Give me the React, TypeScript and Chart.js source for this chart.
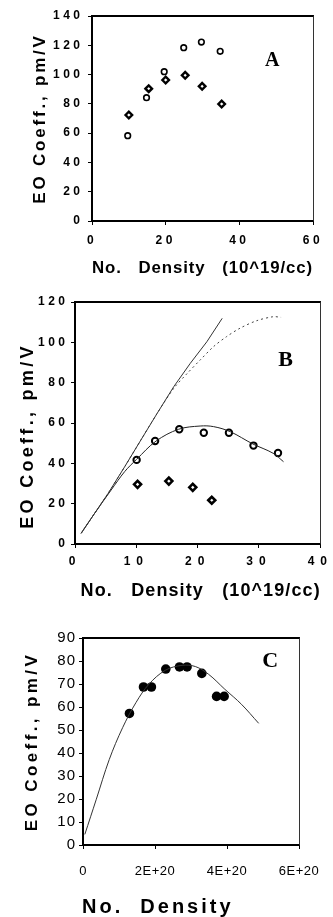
import React, { useEffect, useRef, useState } from 'react';
import { Chart, registerables } from 'chart.js';

Chart.register(...registerables);

// ---------- Panel A ----------
const aCircleX = [9.7, 14.8, 19.6, 24.9, 29.7, 34.8];
const aCircleY = [58.3, 84.2, 102, 118.4, 122.2, 115.9];
const aDiamondX = [10.0, 15.4, 20.0, 25.3, 29.9, 35.2];
const aDiamondY = [72.4, 90.4, 96.3, 99.5, 92.0, 79.9];
const aXTicks = [0, 20, 40, 60];
const aYTicks = [0, 20, 40, 60, 80, 100, 120, 140];

// ---------- Panel B ----------
const bCircleX = [10.05, 13.06, 17.0, 21.0, 25.1, 29.1, 33.1];
const bCircleY = [41.7, 51.1, 56.9, 55.2, 55.2, 48.8, 45.1];
const bDiamondX = [10.2, 15.3, 19.2, 22.3];
const bDiamondY = [29.6, 31.2, 28.1, 21.7];
const bLinearX = [1, 3.2, 5.4, 8.1, 10.75, 13.4, 16.1, 18.8, 21.5, 24];
const bLinearY = [5.3, 15.2, 25.1, 38.3, 51.6, 64.8, 78, 89.6, 100.3, 111.9];
const bDashX = [1, 3.2, 5.4, 8.1, 10.75, 13.4, 16.1, 18.3, 20.4, 22.6, 24.7, 26.9, 29.6, 32.3, 33.6];
const bDashY = [5.3, 15.2, 25.1, 38.3, 51.6, 64.8, 77.2, 84.6, 91.2, 97.9, 102.8, 107, 110.7, 112.7, 112.4];
const bFitX = [1, 3.2, 5.9, 8.1, 10.05, 13.2, 16.9, 20.4, 22.6, 25.3, 29, 32.3, 34];
const bFitY = [5.3, 15.2, 26.8, 35.9, 42, 51, 56.9, 58.5, 58.2, 55.7, 49.6, 45, 40.8];
const bXTicks = [0, 10, 20, 30, 40];
const bYTicks = [0, 20, 40, 60, 80, 100, 120];

// ---------- Panel C ----------
const cPointX = [1.29e20, 1.68e20, 1.9e20, 2.3e20, 2.68e20, 2.89e20, 3.3e20, 3.71e20, 3.92e20];
const cPointY = [57.2, 68.7, 68.7, 76.5, 77.4, 77.4, 74.6, 64.6, 64.6];
const cFitX = [0.05e20, 0.37e20, 0.73e20, 1.1e20, 1.47e20, 1.83e20, 2.29e20, 2.75e20, 3.12e20, 3.49e20, 3.94e20, 4.4e20, 4.88e20];
const cFitY = [4.6, 19.9, 37.2, 51, 61.9, 69.9, 76, 78.1, 77.6, 74.2, 67.7, 61.2, 52.9];
const cXTicks = [0, 2e20, 4e20, 6e20];
const cXTickLabels = ['0', '2E+20', '4E+20', '6E+20'];
const cYTicks = [0, 10, 20, 30, 40, 50, 60, 70, 80, 90];

const yTitle = 'EO Coeff., pm/V';
const xTitleAB = 'No.   Density   (10^19/cc)';
const xTitleC = 'No.  Density';

const W = 333;
const SANS = '"Liberation Sans", Arial, sans-serif';
const SERIF = '"Liberation Serif", "Times New Roman", serif';

const pts = (xs: number[], ys: number[]) => xs.map((x, i) => ({ x, y: ys[i] }));

const stylerPlugin = {
  id: 'styler',
  beforeDraw(chart: any, _args: any, opts: any) {
    ['x', 'y'].forEach((id) => {
      const s = chart.scales[id];
      const cfg = opts && opts[id];
      if (!s || !cfg || s.__styled) return;
      s.__styled = true;
      const drawTitle = s.drawTitle.bind(s);
      const drawLabels = s.drawLabels.bind(s);
      s.drawTitle = () => {
        const ctx = chart.ctx;
        ctx.save();
        ctx.letterSpacing = `${cfg.titleSpacing || 0}px`;
        ctx.translate(cfg.titleDx || 0, cfg.titleDy || 0);
        drawTitle();
        ctx.restore();
      };
      s.drawLabels = (area: any) => {
        const ctx = chart.ctx;
        ctx.save();
        ctx.letterSpacing = `${cfg.tickSpacing || 0}px`;
        drawLabels(area);
        ctx.restore();
      };
    });
  },
};

const panelLabelPlugin = {
  id: 'panelLabel',
  afterDraw(chart: any, _args: any, opts: any) {
    const ctx = chart.ctx;
    const x = chart.scales.x.getPixelForValue(opts.labelX);
    const y = chart.scales.y.getPixelForValue(opts.labelY);
    ctx.save();
    ctx.letterSpacing = '0px';
    ctx.font = opts.labelFont;
    ctx.fillStyle = '#000';
    ctx.textAlign = 'center';
    ctx.textBaseline = 'middle';
    ctx.fillText(opts.label, x, y);
    ctx.restore();
  },
};

type AxisSpec = {
  min: number;
  max: number;
  ticks: number[];
  labels?: string[];
  tickFont: any;
  tickPad: number;
  title: string;
  titleFont: any;
  titlePadding: any;
  titleAlign?: 'start' | 'center' | 'end';
  size: number;
};

function axis(spec: AxisSpec, horizontal: boolean) {
  return {
    type: 'linear',
    position: horizontal ? 'bottom' : 'left',
    min: spec.min,
    max: spec.max,
    afterBuildTicks: (s: any) => {
      s.ticks = spec.ticks.map((v) => ({ value: v }));
    },
    afterFit: (s: any) => {
      if (horizontal) s.height = spec.size;
      else s.width = spec.size;
    },
    grid: { display: true, drawOnChartArea: false, drawTicks: true, tickLength: 4, color: '#000', lineWidth: 1 },
    border: { display: false },
    ticks: {
      color: '#000',
      font: spec.tickFont,
      padding: spec.tickPad,
      maxRotation: 0,
      minRotation: 0,
      autoSkip: false,
      callback: (v: number, i: number) => (spec.labels ? spec.labels[i] : String(v)),
    },
    title: {
      display: true,
      text: spec.title,
      color: '#000',
      font: spec.titleFont,
      padding: spec.titlePadding,
      align: spec.titleAlign || 'center',
    },
  };
}

function baseOptions(pad: any, x: AxisSpec, y: AxisSpec, styler: any, panelLabel: any) {
  return {
    responsive: false,
    animation: false,
    devicePixelRatio: 1,
    layout: { padding: pad },
    plugins: {
      legend: { display: false },
      tooltip: { enabled: false },
      styler,
      panelLabel,
    },
    scales: { x: axis(x, true), y: axis(y, false) },
  };
}

const tickAB = () => ({ family: SANS, size: 12, weight: 'bold' });

function buildA(): any {
  return {
    type: 'scatter',
    data: {
      datasets: [
        { data: pts(aCircleX, aCircleY), pointStyle: 'circle', pointRadius: 2.8, borderWidth: 1.6, borderColor: '#000', backgroundColor: '#fff' },
        { data: pts(aDiamondX, aDiamondY), pointStyle: 'rectRot', pointRadius: 3.3, borderWidth: 2.4, borderColor: '#000', backgroundColor: '#fff' },
      ],
    },
    options: baseOptions(
      { top: 16, right: 20, left: 0, bottom: 0 },
      {
        min: 0, max: 60, ticks: aXTicks, tickFont: tickAB(), tickPad: 8,
        title: xTitleAB, titleFont: { family: SANS, size: 17, weight: 'bold' },
        titlePadding: { top: 0, bottom: 11 }, size: 69,
      },
      {
        min: 0, max: 140, ticks: aYTicks, tickFont: tickAB(), tickPad: 4.5,
        title: yTitle, titleFont: { family: SANS, size: 17, weight: 'bold' },
        titlePadding: { top: 30, bottom: 0 }, size: 92,
      },
      {
        x: { tickSpacing: 3.5, titleSpacing: 0.9, titleDx: 0, titleDy: 0 },
        y: { tickSpacing: 3.5, titleSpacing: 2.8, titleDx: 0, titleDy: 0 },
      },
      { label: 'A', labelX: 48.9, labelY: 109.3, labelFont: `bold 20px ${SERIF}` }
    ),
    plugins: [stylerPlugin, panelLabelPlugin],
  };
}

function buildB(): any {
  return {
    type: 'scatter',
    data: {
      datasets: [
        { data: pts(bLinearX, bLinearY), showLine: true, pointRadius: 0, borderColor: '#333', borderWidth: 1, tension: 0 },
        { data: pts(bDashX, bDashY), showLine: true, pointRadius: 0, borderColor: '#444', borderWidth: 1, borderDash: [2, 3], tension: 0.3 },
        { data: pts(bFitX, bFitY), showLine: true, pointRadius: 0, borderColor: '#222', borderWidth: 1, tension: 0.35 },
        { data: pts(bCircleX, bCircleY), pointStyle: 'circle', pointRadius: 3.2, borderWidth: 2, borderColor: '#000', backgroundColor: '#fff' },
        { data: pts(bDiamondX, bDiamondY), pointStyle: 'rectRot', pointRadius: 3.5, borderWidth: 2.6, borderColor: '#000', backgroundColor: '#fff' },
      ],
    },
    options: baseOptions(
      { top: 12, right: 10, left: 0, bottom: 0 },
      {
        min: 0, max: 40, ticks: bXTicks, tickFont: { family: SANS, size: 12, weight: 'bold' }, tickPad: 6,
        title: xTitleAB, titleFont: { family: SANS, size: 18, weight: 'bold' },
        titlePadding: { top: 0, bottom: 8 }, size: 66,
      },
      {
        min: 0, max: 120, ticks: bYTicks, tickFont: tickAB(), tickPad: 2.5,
        title: yTitle, titleFont: { family: SANS, size: 18, weight: 'bold' },
        titlePadding: { top: 17, bottom: 0 }, size: 75,
      },
      {
        x: { tickSpacing: 6, titleSpacing: 1.1, titleDx: 3, titleDy: 0 },
        y: { tickSpacing: 3.5, titleSpacing: 3.3, titleDx: 0, titleDy: 13 },
      },
      { label: 'B', labelX: 34.35, labelY: 91, labelFont: `bold 22px ${SERIF}` }
    ),
    plugins: [stylerPlugin, panelLabelPlugin],
  };
}

function buildC(): any {
  return {
    type: 'scatter',
    data: {
      datasets: [
        { data: pts(cFitX, cFitY), showLine: true, pointRadius: 0, borderColor: '#333', borderWidth: 1, tension: 0.35 },
        { data: pts(cPointX, cPointY), pointStyle: 'circle', pointRadius: 4.8, borderWidth: 0, borderColor: '#000', backgroundColor: '#000' },
      ],
    },
    options: baseOptions(
      { top: 28, right: 32, left: 0, bottom: 0 },
      {
        min: 0, max: 6e20, ticks: cXTicks, labels: cXTickLabels,
        tickFont: { family: SANS, size: 13 }, tickPad: 15,
        title: xTitleC, titleFont: { family: SANS, size: 20, weight: 'bold' },
        titlePadding: { top: 0, bottom: 0 }, titleAlign: 'start', size: 72,
      },
      {
        min: 0, max: 90, ticks: cYTicks, tickFont: { family: SANS, size: 15 }, tickPad: 3,
        title: yTitle, titleFont: { family: SANS, size: 17, weight: 'bold' },
        titlePadding: { top: 22, bottom: 0 }, size: 83,
      },
      {
        x: { tickSpacing: 0.5, titleSpacing: 3, titleDx: -1, titleDy: 2 },
        y: { tickSpacing: 1, titleSpacing: 3.4, titleDx: 0, titleDy: 0 },
      },
      { label: 'C', labelX: 5.2e20, labelY: 79.8, labelFont: `bold 22px ${SERIF}` }
    ),
    plugins: [stylerPlugin, panelLabelPlugin],
  };
}

function ChartPanel({ top, height, build }: { top: number; height: number; build: () => any }) {
  const ref = useRef<HTMLCanvasElement>(null);
  const [area, setArea] = useState<any>(null);
  useEffect(() => {
    if (!ref.current) return;
    const chart = new Chart(ref.current, build());
    const ca = chart.chartArea;
    setArea({ left: ca.left, right: ca.right, top: ca.top, bottom: ca.bottom });
    return () => chart.destroy();
  }, [build]);
  return (
    <div style={{ position: 'absolute', left: 0, top, width: W, height }}>
      <canvas ref={ref} width={W} height={height} style={{ width: W, height, display: 'block' }} />
      {area && (
        <div
          style={{
            position: 'absolute',
            boxSizing: 'border-box',
            left: Math.round(area.left) - 1,
            top: Math.round(area.top) - 1,
            width: Math.round(area.right) - Math.round(area.left) + 2,
            height: Math.round(area.bottom) - Math.round(area.top) + 2,
            borderTop: '2px solid #000',
            borderLeft: '2px solid #000',
            borderBottom: '2px solid #000',
            borderRight: '1.5px solid #333',
            pointerEvents: 'none',
          }}
        />
      )}
    </div>
  );
}

export default function App() {
  return (
    <div style={{ position: 'absolute', left: 0, top: 0, width: W, height: 917, background: '#fff', overflow: 'hidden' }}>
      <ChartPanel top={0} height={290} build={buildA} />
      <ChartPanel top={290} height={320} build={buildB} />
      <ChartPanel top={610} height={307} build={buildC} />
    </div>
  );
}
